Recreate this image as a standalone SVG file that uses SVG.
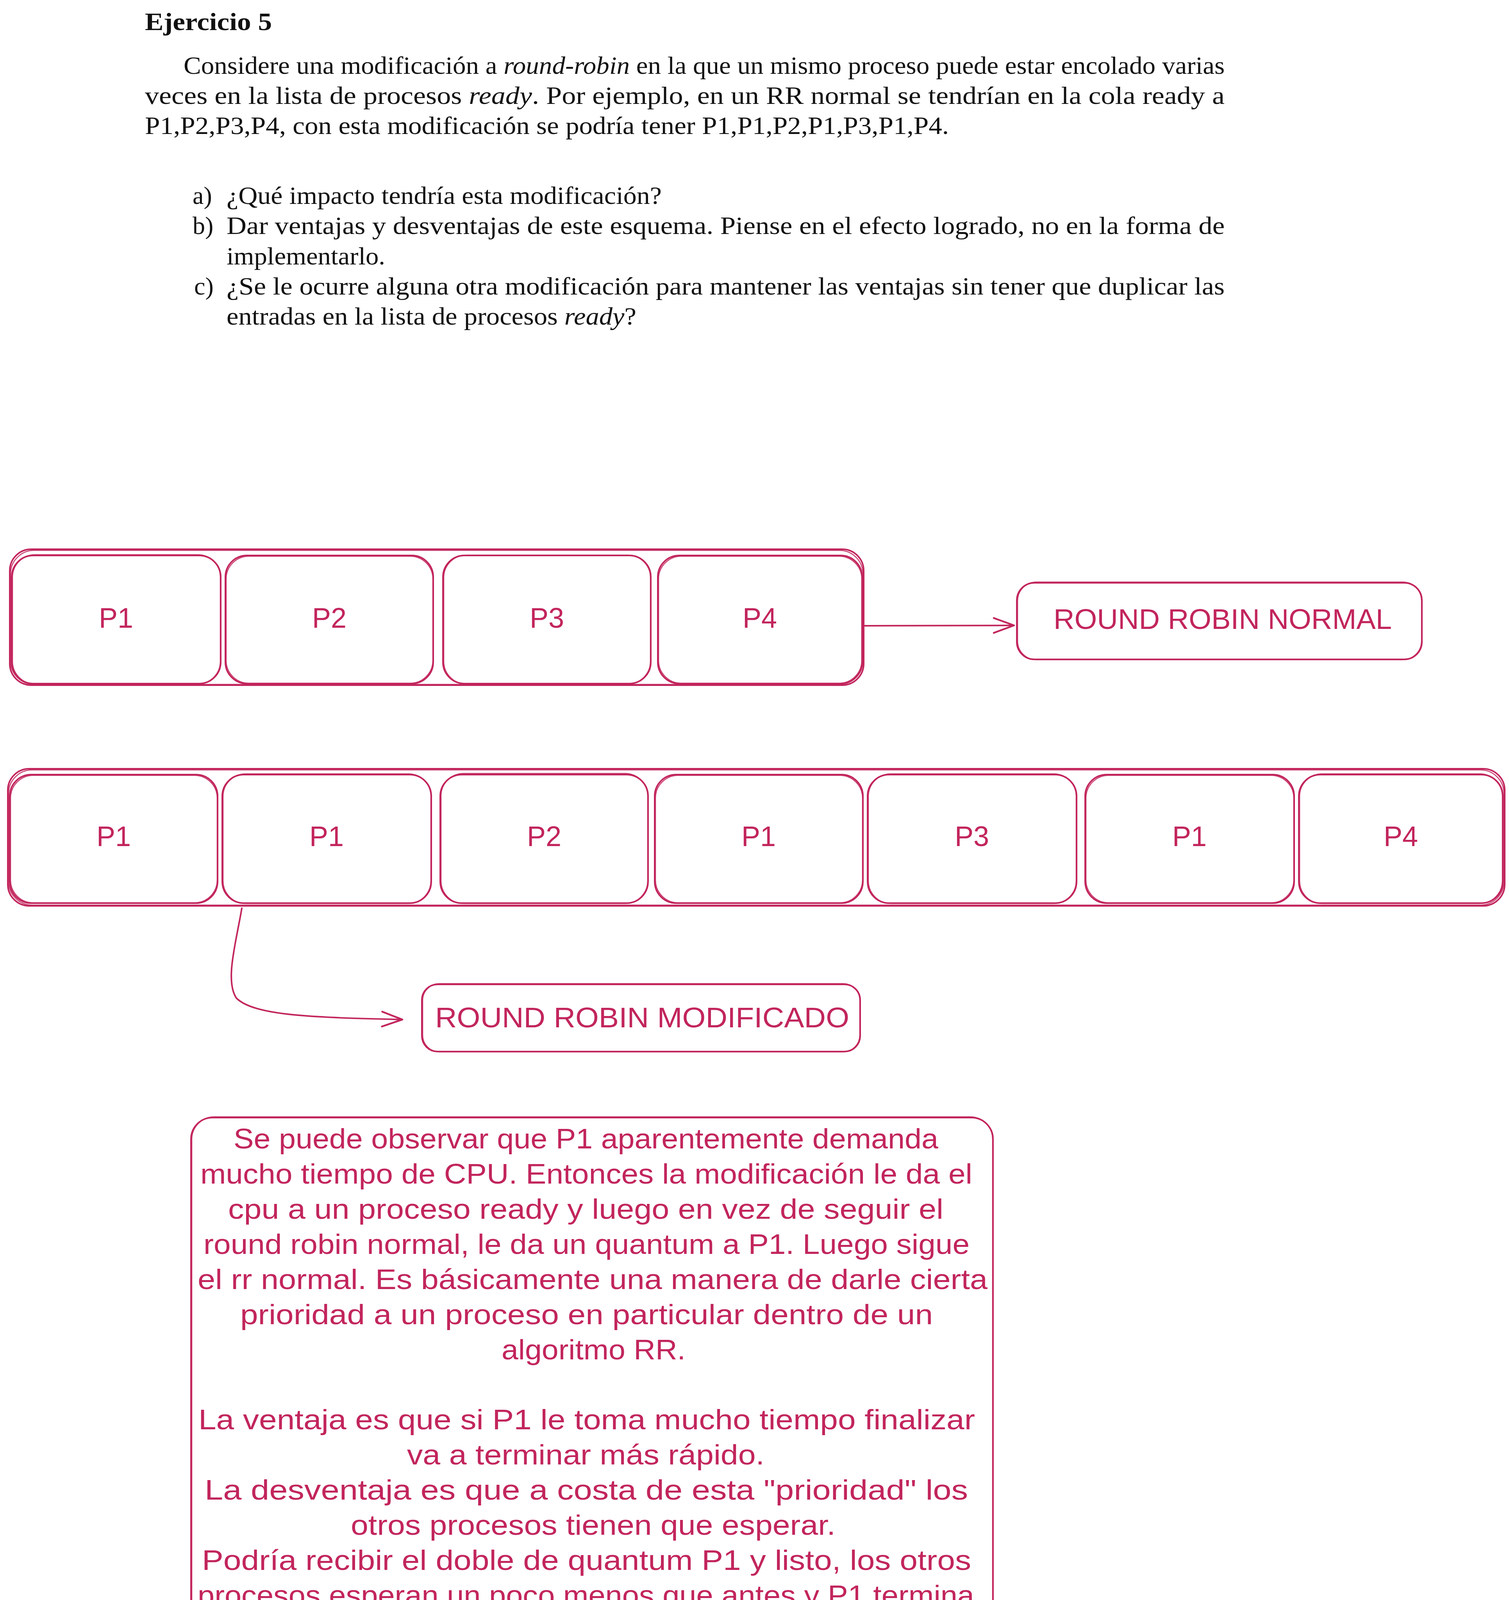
<svg xmlns="http://www.w3.org/2000/svg" width="3863" height="5282" viewBox="0 0 3863 5282">
<style>
.s{fill:none;stroke:#c2255c;stroke-width:4;stroke-linecap:round;stroke-linejoin:round}
.s2{fill:none;stroke:#c2255c;stroke-width:2.5;stroke-linecap:round;opacity:.9}
.v{font-family:"Liberation Sans","Noto Sans",sans-serif;font-size:72px;fill:#c2255c}
.c{text-anchor:middle}
.t{font-family:"Liberation Serif","DejaVu Serif",serif;font-size:64px;fill:#111}
.b{font-weight:bold}
.i{font-style:italic}
</style>
<defs>
<marker id="ah" markerUnits="userSpaceOnUse" markerWidth="80" markerHeight="60" viewBox="-70 -30 80 60" refX="0" refY="0" orient="auto" overflow="visible">
<path d="M-52,-19 L0,0 L-52,19" fill="none" stroke="#c2255c" stroke-width="4.5" stroke-linecap="round" stroke-linejoin="round"/>
</marker>
</defs>
<rect width="3863" height="5282" fill="#fff"/>

<g id="header">
<text class="t b" x="371" y="77" textLength="325" lengthAdjust="spacingAndGlyphs">Ejercicio 5</text>
<text class="t" x="470" y="189" textLength="2665" lengthAdjust="spacingAndGlyphs">Considere una modificación a <tspan class="i">round-robin</tspan> en la que un mismo proceso puede estar encolado varias</text>
<text class="t" x="371" y="266" textLength="2764" lengthAdjust="spacingAndGlyphs">veces en la lista de procesos <tspan class="i">ready</tspan>. Por ejemplo, en un RR normal se tendrían en la cola ready a</text>
<text class="t" x="371" y="343" textLength="2058" lengthAdjust="spacingAndGlyphs">P1,P2,P3,P4, con esta modificación se podría tener P1,P1,P2,P1,P3,P1,P4.</text>
<text class="t" x="493" y="522">a)</text>
<text class="t" x="580" y="522" textLength="1114" lengthAdjust="spacingAndGlyphs">¿Qué impacto tendría esta modificación?</text>
<text class="t" x="493" y="599">b)</text>
<text class="t" x="580" y="599" textLength="2555" lengthAdjust="spacingAndGlyphs">Dar ventajas y desventajas de este esquema. Piense en el efecto logrado, no en la forma de</text>
<text class="t" x="580" y="677" textLength="406" lengthAdjust="spacingAndGlyphs">implementarlo.</text>
<text class="t" x="497" y="754">c)</text>
<text class="t" x="580" y="754" textLength="2555" lengthAdjust="spacingAndGlyphs">¿Se le ocurre alguna otra modificación para mantener las ventajas sin tener que duplicar las</text>
<text class="t" x="580" y="831" textLength="1049" lengthAdjust="spacingAndGlyphs">entradas en la lista de procesos <tspan class="i">ready</tspan>?</text>
</g>

<g id="row1-container">
<rect class="s" x="25" y="1406" width="2186" height="348" rx="55"/>
<rect class="s2" x="27" y="1409" width="2182" height="343" rx="60"/>
</g>
<g id="r1-p1">
<rect class="s" x="30" y="1422" width="535" height="328" rx="55"/>
<rect class="s2" x="32" y="1420" width="532" height="331" rx="58"/>
<text class="v c" x="297" y="1607">P1</text>
</g>
<g id="r1-p2">
<rect class="s" x="577" y="1422" width="532" height="328" rx="55"/>
<rect class="s2" x="579" y="1424" width="529" height="325" rx="58"/>
<text class="v c" x="843" y="1607">P2</text>
</g>
<g id="r1-p3">
<rect class="s" x="1134" y="1422" width="532" height="328" rx="55"/>
<rect class="s2" x="1136" y="1421" width="529" height="330" rx="58"/>
<text class="v c" x="1400" y="1607">P3</text>
</g>
<g id="r1-p4">
<rect class="s" x="1684" y="1422" width="523" height="328" rx="55"/>
<rect class="s2" x="1686" y="1424" width="520" height="325" rx="58"/>
<text class="v c" x="1945" y="1607">P4</text>
</g>
<g id="rr-normal">
<rect class="s" x="2603" y="1492" width="1037" height="196" rx="45"/>
<rect class="s2" x="2605" y="1490" width="1034" height="199" rx="48"/>
<text class="v c" x="3130" y="1610" textLength="866" lengthAdjust="spacingAndGlyphs">ROUND ROBIN NORMAL</text>
</g>

<g id="row2-container">
<rect class="s" x="20" y="1968" width="3832" height="351" rx="55"/>
<rect class="s2" x="22" y="1971" width="3828" height="346" rx="60"/>
</g>
<g id="r2-p1">
<rect class="s" x="25" y="1983" width="532" height="329" rx="55"/>
<rect class="s2" x="27" y="1985" width="529" height="326" rx="58"/>
<text class="v c" x="291" y="2166">P1</text>
</g>
<g id="r2-p1b">
<rect class="s" x="569" y="1983" width="535" height="329" rx="55"/>
<rect class="s2" x="571" y="1981" width="532" height="332" rx="58"/>
<text class="v c" x="836" y="2166">P1</text>
</g>
<g id="r2-p2">
<rect class="s" x="1127" y="1983" width="532" height="329" rx="55"/>
<rect class="s2" x="1129" y="1980" width="529" height="333" rx="58"/>
<text class="v c" x="1393" y="2166">P2</text>
</g>
<g id="r2-p1c">
<rect class="s" x="1676" y="1983" width="533" height="329" rx="55"/>
<rect class="s2" x="1678" y="1985" width="530" height="326" rx="58"/>
<text class="v c" x="1942" y="2166">P1</text>
</g>
<g id="r2-p3">
<rect class="s" x="2221" y="1983" width="535" height="329" rx="55"/>
<rect class="s2" x="2223" y="1981" width="532" height="332" rx="58"/>
<text class="v c" x="2488" y="2166">P3</text>
</g>
<g id="r2-p1d">
<rect class="s" x="2778" y="1983" width="535" height="329" rx="55"/>
<rect class="s2" x="2780" y="1985" width="532" height="326" rx="58"/>
<text class="v c" x="3045" y="2166">P1</text>
</g>
<g id="r2-p4">
<rect class="s" x="3325" y="1983" width="522" height="329" rx="55"/>
<rect class="s2" x="3327" y="1981" width="519" height="332" rx="58"/>
<text class="v c" x="3586" y="2166">P4</text>
</g>
<g id="rr-modificado">
<rect class="s" x="1080" y="2520" width="1122" height="172" rx="40"/>
<rect class="s2" x="1082" y="2518" width="1119" height="175" rx="43"/>
<text class="v c" x="1644" y="2630" textLength="1060" lengthAdjust="spacingAndGlyphs">ROUND ROBIN MODIFICADO</text>
</g>

<g id="explicacion">
<rect class="s" x="489" y="2861" width="2053" height="1375" rx="55"/>
<rect class="s2" x="491" y="2859" width="2050" height="1378" rx="58"/>
<text class="v" x="598" y="2940" textLength="1804" lengthAdjust="spacingAndGlyphs">Se puede observar que P1 aparentemente demanda</text>
<text class="v" x="513" y="3030" textLength="1976" lengthAdjust="spacingAndGlyphs">mucho tiempo de CPU. Entonces la modificación le da el</text>
<text class="v" x="584" y="3120" textLength="1831" lengthAdjust="spacingAndGlyphs">cpu a un proceso ready y luego en vez de seguir el</text>
<text class="v" x="521" y="3210" textLength="1961" lengthAdjust="spacingAndGlyphs">round robin normal, le da un quantum a P1. Luego sigue</text>
<text class="v" x="506" y="3300" textLength="2022" lengthAdjust="spacingAndGlyphs">el rr normal. Es básicamente una manera de darle cierta</text>
<text class="v" x="615" y="3390" textLength="1773" lengthAdjust="spacingAndGlyphs">prioridad a un proceso en particular dentro de un</text>
<text class="v" x="1284" y="3480" textLength="471" lengthAdjust="spacingAndGlyphs">algoritmo RR.</text>
<text class="v" x="508" y="3659" textLength="1988" lengthAdjust="spacingAndGlyphs">La ventaja es que si P1 le toma mucho tiempo finalizar</text>
<text class="v" x="1042" y="3749" textLength="915" lengthAdjust="spacingAndGlyphs">va a terminar más rápido.</text>
<text class="v" x="524" y="3839" textLength="1954" lengthAdjust="spacingAndGlyphs">La desventaja es que a costa de esta "prioridad" los</text>
<text class="v" x="898" y="3929" textLength="1241" lengthAdjust="spacingAndGlyphs">otros procesos tienen que esperar.</text>
<text class="v" x="517" y="4019" textLength="1969" lengthAdjust="spacingAndGlyphs">Podría recibir el doble de quantum P1 y listo, los otros</text>
<text class="v" x="506" y="4109" textLength="1988" lengthAdjust="spacingAndGlyphs">procesos esperan un poco menos que antes y P1 termina</text>
<text class="v" x="527" y="4199" textLength="1982" lengthAdjust="spacingAndGlyphs">un poco después pero tampoco es que no termina nunca</text>
</g>

<g id="algo-asi">
<text class="v" x="563" y="4696" textLength="389" lengthAdjust="spacingAndGlyphs">algo así ...</text>
</g>

<g id="row3-container">
<rect class="s" x="544" y="4918" width="2780" height="350" rx="55"/>
<rect class="s2" x="546" y="4921" width="2776" height="345" rx="60"/>
</g>
<g id="r3-p1">
<rect class="s" x="550" y="4937" width="537" height="328" rx="55"/>
<rect class="s2" x="552" y="4935" width="534" height="331" rx="58"/>
<text class="v c" x="819" y="5122">P1</text>
</g>
<g id="r3-p1b">
<rect class="s" x="1096" y="4937" width="535" height="328" rx="55"/>
<rect class="s2" x="1098" y="4939" width="532" height="325" rx="58"/>
<text class="v c" x="1365" y="5122">P1</text>
</g>
<g id="r3-p2">
<rect class="s" x="1654" y="4937" width="534" height="328" rx="55"/>
<rect class="s2" x="1656" y="4935" width="531" height="331" rx="58"/>
<text class="v c" x="1920" y="5122">P2</text>
</g>
<g id="r3-p3">
<rect class="s" x="2202" y="4937" width="534" height="328" rx="55"/>
<rect class="s2" x="2204" y="4939" width="531" height="325" rx="58"/>
<text class="v c" x="2468" y="5122">P3</text>
</g>
<g id="r3-p4">
<rect class="s" x="2785" y="4930" width="535" height="330" rx="55"/>
<rect class="s2" x="2787" y="4928" width="532" height="333" rx="58"/>
<text class="v c" x="3053" y="5115">P4</text>
</g>

<g id="connectors">
<path class="s" d="M2211,1602 L2596,1601" marker-end="url(#ah)"/>
<path class="s" d="M619,2325 C605,2410 575,2510 605,2555 C650,2600 800,2605 1030,2610" marker-end="url(#ah)"/>
<path class="s" d="M863,4226 Q770,4420 750,4631"/>
<path class="s" d="M827,4724 C900,4800 1180,4800 1329,4849" marker-end="url(#ah)"/>
</g>
</svg>
